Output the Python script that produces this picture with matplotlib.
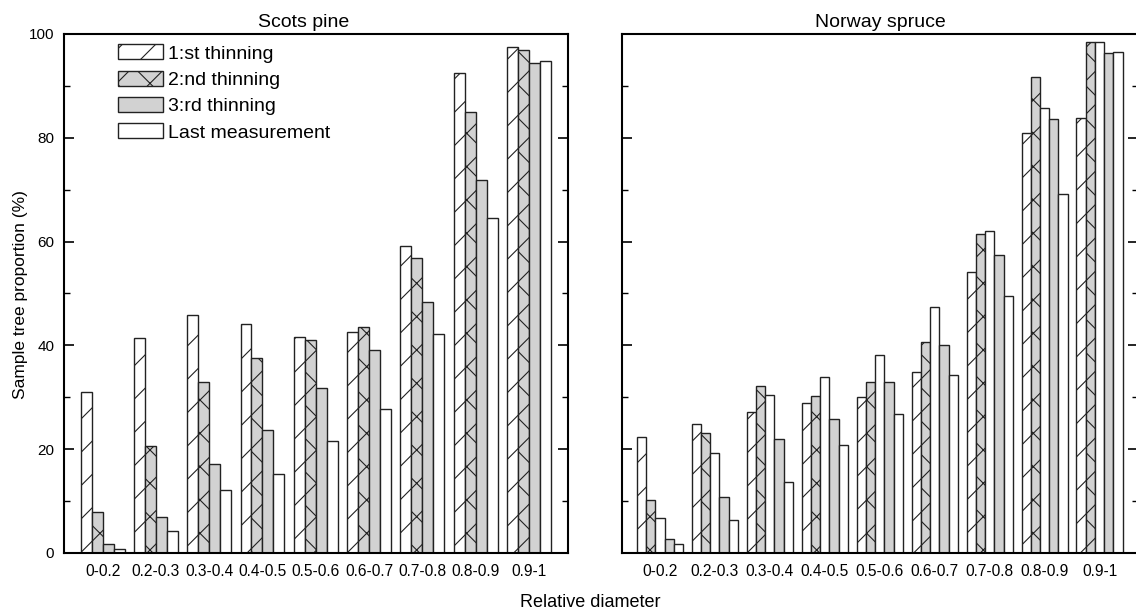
import numpy as np
import matplotlib
matplotlib.use("Agg")
import matplotlib.pyplot as plt
from matplotlib.ticker import MultipleLocator

plt.rcParams['font.family'] = ['Liberation Sans', 'DejaVu Sans']
plt.rcParams['hatch.linewidth'] = 0.8

# Relative diameter classes
classes = ['0-0.2', '0.2-0.3', '0.3-0.4', '0.4-0.5', '0.5-0.6',
           '0.6-0.7', '0.7-0.8', '0.8-0.9', '0.9-1']

# Scots pine, sample tree proportion (%)
pine_1st = [31.0, 41.4, 45.8, 44.2, 41.6, 42.5, 59.2, 92.5, 97.4]
pine_2nd = [7.9, 20.7, 32.9, 37.5, 41.0, 43.5, 56.8, 85.0, 96.9]
pine_3rd = [1.7, 6.9, 17.1, 23.7, 31.8, 39.2, 48.4, 71.8, 94.5]
pine_last = [0.7, 4.3, 12.1, 15.3, 21.5, 27.8, 42.1, 64.5, 94.7]

# Norway spruce, sample tree proportion (%) - five bars per class
spruce_1st = [22.4, 24.8, 27.2, 28.9, 30.1, 34.9, 54.2, 80.9, 83.8]
spruce_2nd = [10.3, 23.1, 32.2, 30.3, 32.9, 40.6, 61.5, 91.8, 98.5]
spruce_extra = [6.8, 19.2, 30.4, 33.9, 38.1, 47.3, 62.1, 85.8, 98.5]
spruce_3rd = [2.6, 10.7, 21.9, 25.9, 32.9, 40.0, 57.4, 83.7, 96.3]
spruce_last = [1.8, 6.3, 13.7, 20.9, 26.7, 34.2, 49.6, 69.1, 96.5]

labels = ['1:st thinning', '2:nd thinning', '3:rd thinning', 'Last measurement']
GRAY = '#d2d2d2'
styles = {
    '1st': dict(facecolor='white', hatch='/'),
    '2nd': dict(facecolor=GRAY, hatch='x'),
    '3rd': dict(facecolor=GRAY, hatch=None),
    'last': dict(facecolor='white', hatch=None),
}

fig = plt.figure(figsize=(11.36, 6.13), dpi=100)
ax_pine = fig.add_axes([0.0563, 0.0979, 0.4437, 0.8467])
ax_spruce = fig.add_axes([0.5473, 0.0979, 0.4545, 0.8467])

x = np.arange(len(classes))


def draw_bars(ax, series, width):
    n = len(series)
    containers = []
    for k, (vals, key) in enumerate(series):
        bars = ax.bar(x + (k - (n - 1) / 2) * width, vals, width,
                      edgecolor='#222222', linewidth=1.0, **styles[key])
        containers.append(bars)
    return containers


pine_bars = draw_bars(ax_pine, [(pine_1st, '1st'), (pine_2nd, '2nd'),
                                (pine_3rd, '3rd'), (pine_last, 'last')], 0.206)
draw_bars(ax_spruce, [(spruce_1st, '1st'), (spruce_2nd, '2nd'),
                      (spruce_extra, 'last'), (spruce_3rd, '3rd'),
                      (spruce_last, 'last')], 0.168)

for ax, xlim in [(ax_pine, (-0.726, 8.735)), (ax_spruce, (-0.695, 8.70))]:
    ax.set_xlim(*xlim)
    ax.set_ylim(0, 100)
    ax.set_xticks(x)
    ax.set_xticklabels(classes, fontsize=11.2)
    ax.yaxis.set_major_locator(MultipleLocator(20))
    ax.yaxis.set_minor_locator(MultipleLocator(10))
    ax.tick_params(axis='x', length=0, pad=8)
    ax.tick_params(axis='y', which='both', direction='in', left=True, right=True,
                   labelsize=11, pad=7)
    ax.tick_params(axis='y', which='major', length=7, width=1.2)
    ax.tick_params(axis='y', which='minor', length=4, width=1.0)
    for sp in ax.spines.values():
        sp.set_linewidth(1.5)

ax_pine.set_title('Scots pine', fontsize=14, pad=5, x=0.475)
ax_spruce.set_title('Norway spruce', fontsize=14, pad=5)
ax_spruce.tick_params(axis='y', labelleft=False)

ax_pine.legend(pine_bars, labels, loc='upper left', bbox_to_anchor=(0.107, 0.98),
               frameon=False, fontsize=14, handlelength=2.3, handleheight=0.8,
               labelspacing=0.42, handletextpad=0.27, borderpad=0, borderaxespad=0)

fig.text(0.52, 0.004, 'Relative diameter', ha='center', va='bottom', fontsize=13)
fig.text(0.018, 0.52, 'Sample tree proportion (%)', ha='center', va='center',
         rotation=90, fontsize=12.5)

fig.savefig('out.png', dpi=100)
